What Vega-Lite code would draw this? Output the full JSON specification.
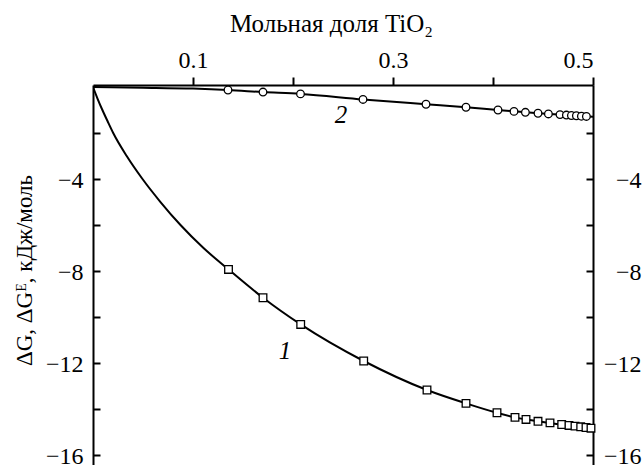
{
  "$schema": "https://vega.github.io/schema/vega-lite/v6.json",
  "width": 500,
  "height": 380,
  "autosize": {"type": "none"},
  "padding": {"left": 93, "top": 85, "right": 49, "bottom": 0},
  "background": "white",
  "config": {
    "view": {"stroke": null},
    "font": "Liberation Serif",
    "axis": {
      "labelFont": "Liberation Serif",
      "titleFont": "Liberation Serif",
      "labelFontSize": 24,
      "titleFontSize": 25,
      "labelColor": "black",
      "titleColor": "black",
      "domainColor": "black",
      "tickColor": "black",
      "domainWidth": 2,
      "tickWidth": 2,
      "grid": false,
      "titleFontWeight": "normal"
    }
  },
  "datasets": {
    "curves": [
      {"series": "1", "x": 0, "y": 0},
      {"series": "1", "x": 0.0045, "y": -0.5},
      {"series": "1", "x": 0.0094, "y": -1.0},
      {"series": "1", "x": 0.0147, "y": -1.5},
      {"series": "1", "x": 0.0202, "y": -2.0},
      {"series": "1", "x": 0.0337, "y": -3.0},
      {"series": "1", "x": 0.0495, "y": -4.0},
      {"series": "1", "x": 0.0675, "y": -5.0},
      {"series": "1", "x": 0.0875, "y": -6.0},
      {"series": "1", "x": 0.1105, "y": -7.0},
      {"series": "1", "x": 0.1355, "y": -7.93},
      {"series": "1", "x": 0.17, "y": -9.16},
      {"series": "1", "x": 0.2077, "y": -10.32},
      {"series": "1", "x": 0.2707, "y": -11.91},
      {"series": "1", "x": 0.334, "y": -13.17},
      {"series": "1", "x": 0.373, "y": -13.75},
      {"series": "1", "x": 0.404, "y": -14.16},
      {"series": "1", "x": 0.422, "y": -14.36},
      {"series": "1", "x": 0.445, "y": -14.53},
      {"series": "1", "x": 0.469, "y": -14.68},
      {"series": "1", "x": 0.5, "y": -14.84},
      {"series": "2", "x": 0, "y": 0},
      {"series": "2", "x": 0.05, "y": -0.03},
      {"series": "2", "x": 0.1, "y": -0.07},
      {"series": "2", "x": 0.135, "y": -0.13},
      {"series": "2", "x": 0.17, "y": -0.22},
      {"series": "2", "x": 0.2075, "y": -0.3},
      {"series": "2", "x": 0.27, "y": -0.54},
      {"series": "2", "x": 0.333, "y": -0.75},
      {"series": "2", "x": 0.373, "y": -0.88},
      {"series": "2", "x": 0.405, "y": -1.0},
      {"series": "2", "x": 0.445, "y": -1.14},
      {"series": "2", "x": 0.5, "y": -1.29}
    ],
    "markers": [
      {"series": "1", "x": 0.1355, "y": -7.93},
      {"series": "1", "x": 0.17, "y": -9.16},
      {"series": "1", "x": 0.2077, "y": -10.32},
      {"series": "1", "x": 0.2707, "y": -11.91},
      {"series": "1", "x": 0.334, "y": -13.17},
      {"series": "1", "x": 0.373, "y": -13.75},
      {"series": "1", "x": 0.404, "y": -14.16},
      {"series": "1", "x": 0.422, "y": -14.36},
      {"series": "1", "x": 0.433, "y": -14.45},
      {"series": "1", "x": 0.445, "y": -14.53},
      {"series": "1", "x": 0.457, "y": -14.6},
      {"series": "1", "x": 0.4687, "y": -14.67},
      {"series": "1", "x": 0.476, "y": -14.71},
      {"series": "1", "x": 0.482, "y": -14.74},
      {"series": "1", "x": 0.4877, "y": -14.77},
      {"series": "1", "x": 0.493, "y": -14.8},
      {"series": "1", "x": 0.498, "y": -14.83},
      {"series": "2", "x": 0.135, "y": -0.13},
      {"series": "2", "x": 0.17, "y": -0.22},
      {"series": "2", "x": 0.2075, "y": -0.3},
      {"series": "2", "x": 0.27, "y": -0.54},
      {"series": "2", "x": 0.333, "y": -0.75},
      {"series": "2", "x": 0.373, "y": -0.88},
      {"series": "2", "x": 0.405, "y": -1.0},
      {"series": "2", "x": 0.421, "y": -1.06},
      {"series": "2", "x": 0.4324, "y": -1.1},
      {"series": "2", "x": 0.445, "y": -1.14},
      {"series": "2", "x": 0.4554, "y": -1.17},
      {"series": "2", "x": 0.467, "y": -1.2},
      {"series": "2", "x": 0.4734, "y": -1.22},
      {"series": "2", "x": 0.4784, "y": -1.24},
      {"series": "2", "x": 0.4834, "y": -1.25},
      {"series": "2", "x": 0.4884, "y": -1.27},
      {"series": "2", "x": 0.4934, "y": -1.28}
    ],
    "labels": [
      {"x": 0.192, "y": -11.83, "label": "1"},
      {"x": 0.248, "y": -1.57, "label": "2"}
    ]
  },
  "encoding": {
    "x": {
      "field": "x",
      "type": "quantitative",
      "scale": {"domain": [0, 0.5], "nice": false, "zero": false},
      "axis": {
        "orient": "top",
        "values": [0.1, 0.2, 0.3, 0.4, 0.5],
        "format": ".1f",
        "labelExpr": "(round(datum.value*10) % 2 == 1) ? datum.label : ''",
        "tickSize": 8,
        "labelPadding": 10,
        "labelBaseline": "alphabetic",
        "title": "Мольная доля TiO₂",
        "titleX": 238,
        "titleY": -54,
        "titleBaseline": "alphabetic",
        "titleAlign": "center",
        "titleAnchor": null
      }
    }
  },
  "layer": [
    {
      "data": {"name": "curves"},
      "mark": {"type": "line", "interpolate": "monotone", "color": "black", "strokeWidth": 2, "clip": true},
      "encoding": {
        "y": {
          "field": "y",
          "type": "quantitative",
          "scale": {"domain": [-16.43, 0.087], "nice": false, "zero": false},
          "axis": {
            "orient": "left",
            "values": [-2, -4, -6, -8, -10, -12, -14, -16],
            "labelExpr": "(datum.value % 4 == 0) ? datum.label : ''",
            "tickSize": -7,
            "labelPadding": 17,
            "labelBaseline": "alphabetic",
            "labelOffset": 8,
            "title": "ΔG, ΔGᴱ, кДж/моль",
            "titleFontSize": 23,
            "titleX": -62,
            "titleY": 185,
            "titleAngle": -90,
            "titleBaseline": "alphabetic",
            "titleAlign": "center",
            "titleAnchor": null
          }
        },
        "detail": {"field": "series", "type": "nominal"}
      }
    },
    {
      "data": {"name": "markers"},
      "mark": {"type": "point", "filled": false, "fill": "white", "stroke": "black", "strokeWidth": 1.3, "opacity": 1, "size": 58},
      "encoding": {
        "y": {
          "field": "y",
          "type": "quantitative",
          "scale": {"domain": [-16.43, 0.087], "nice": false, "zero": false},
          "axis": {
            "orient": "right",
            "values": [-2, -4, -6, -8, -10, -12, -14, -16],
            "labelExpr": "(datum.value % 4 == 0) ? datum.label : ''",
            "tickSize": -7,
            "labelPadding": 55,
            "labelAlign": "right",
            "labelBaseline": "alphabetic",
            "labelOffset": 8,
            "title": null
          }
        },
        "shape": {
          "field": "series",
          "type": "nominal",
          "scale": {"domain": ["1", "2"], "range": ["square", "circle"]},
          "legend": null
        }
      }
    },
    {
      "data": {"name": "labels"},
      "mark": {"type": "text", "font": "Liberation Serif", "fontStyle": "italic", "fontSize": 25, "align": "center", "baseline": "alphabetic", "color": "black"},
      "encoding": {
        "y": {
          "field": "y",
          "type": "quantitative",
          "scale": {"domain": [-16.43, 0.087], "nice": false, "zero": false},
          "axis": null
        },
        "text": {"field": "label"}
      }
    }
  ],
  "resolve": {"axis": {"y": "independent"}}
}
